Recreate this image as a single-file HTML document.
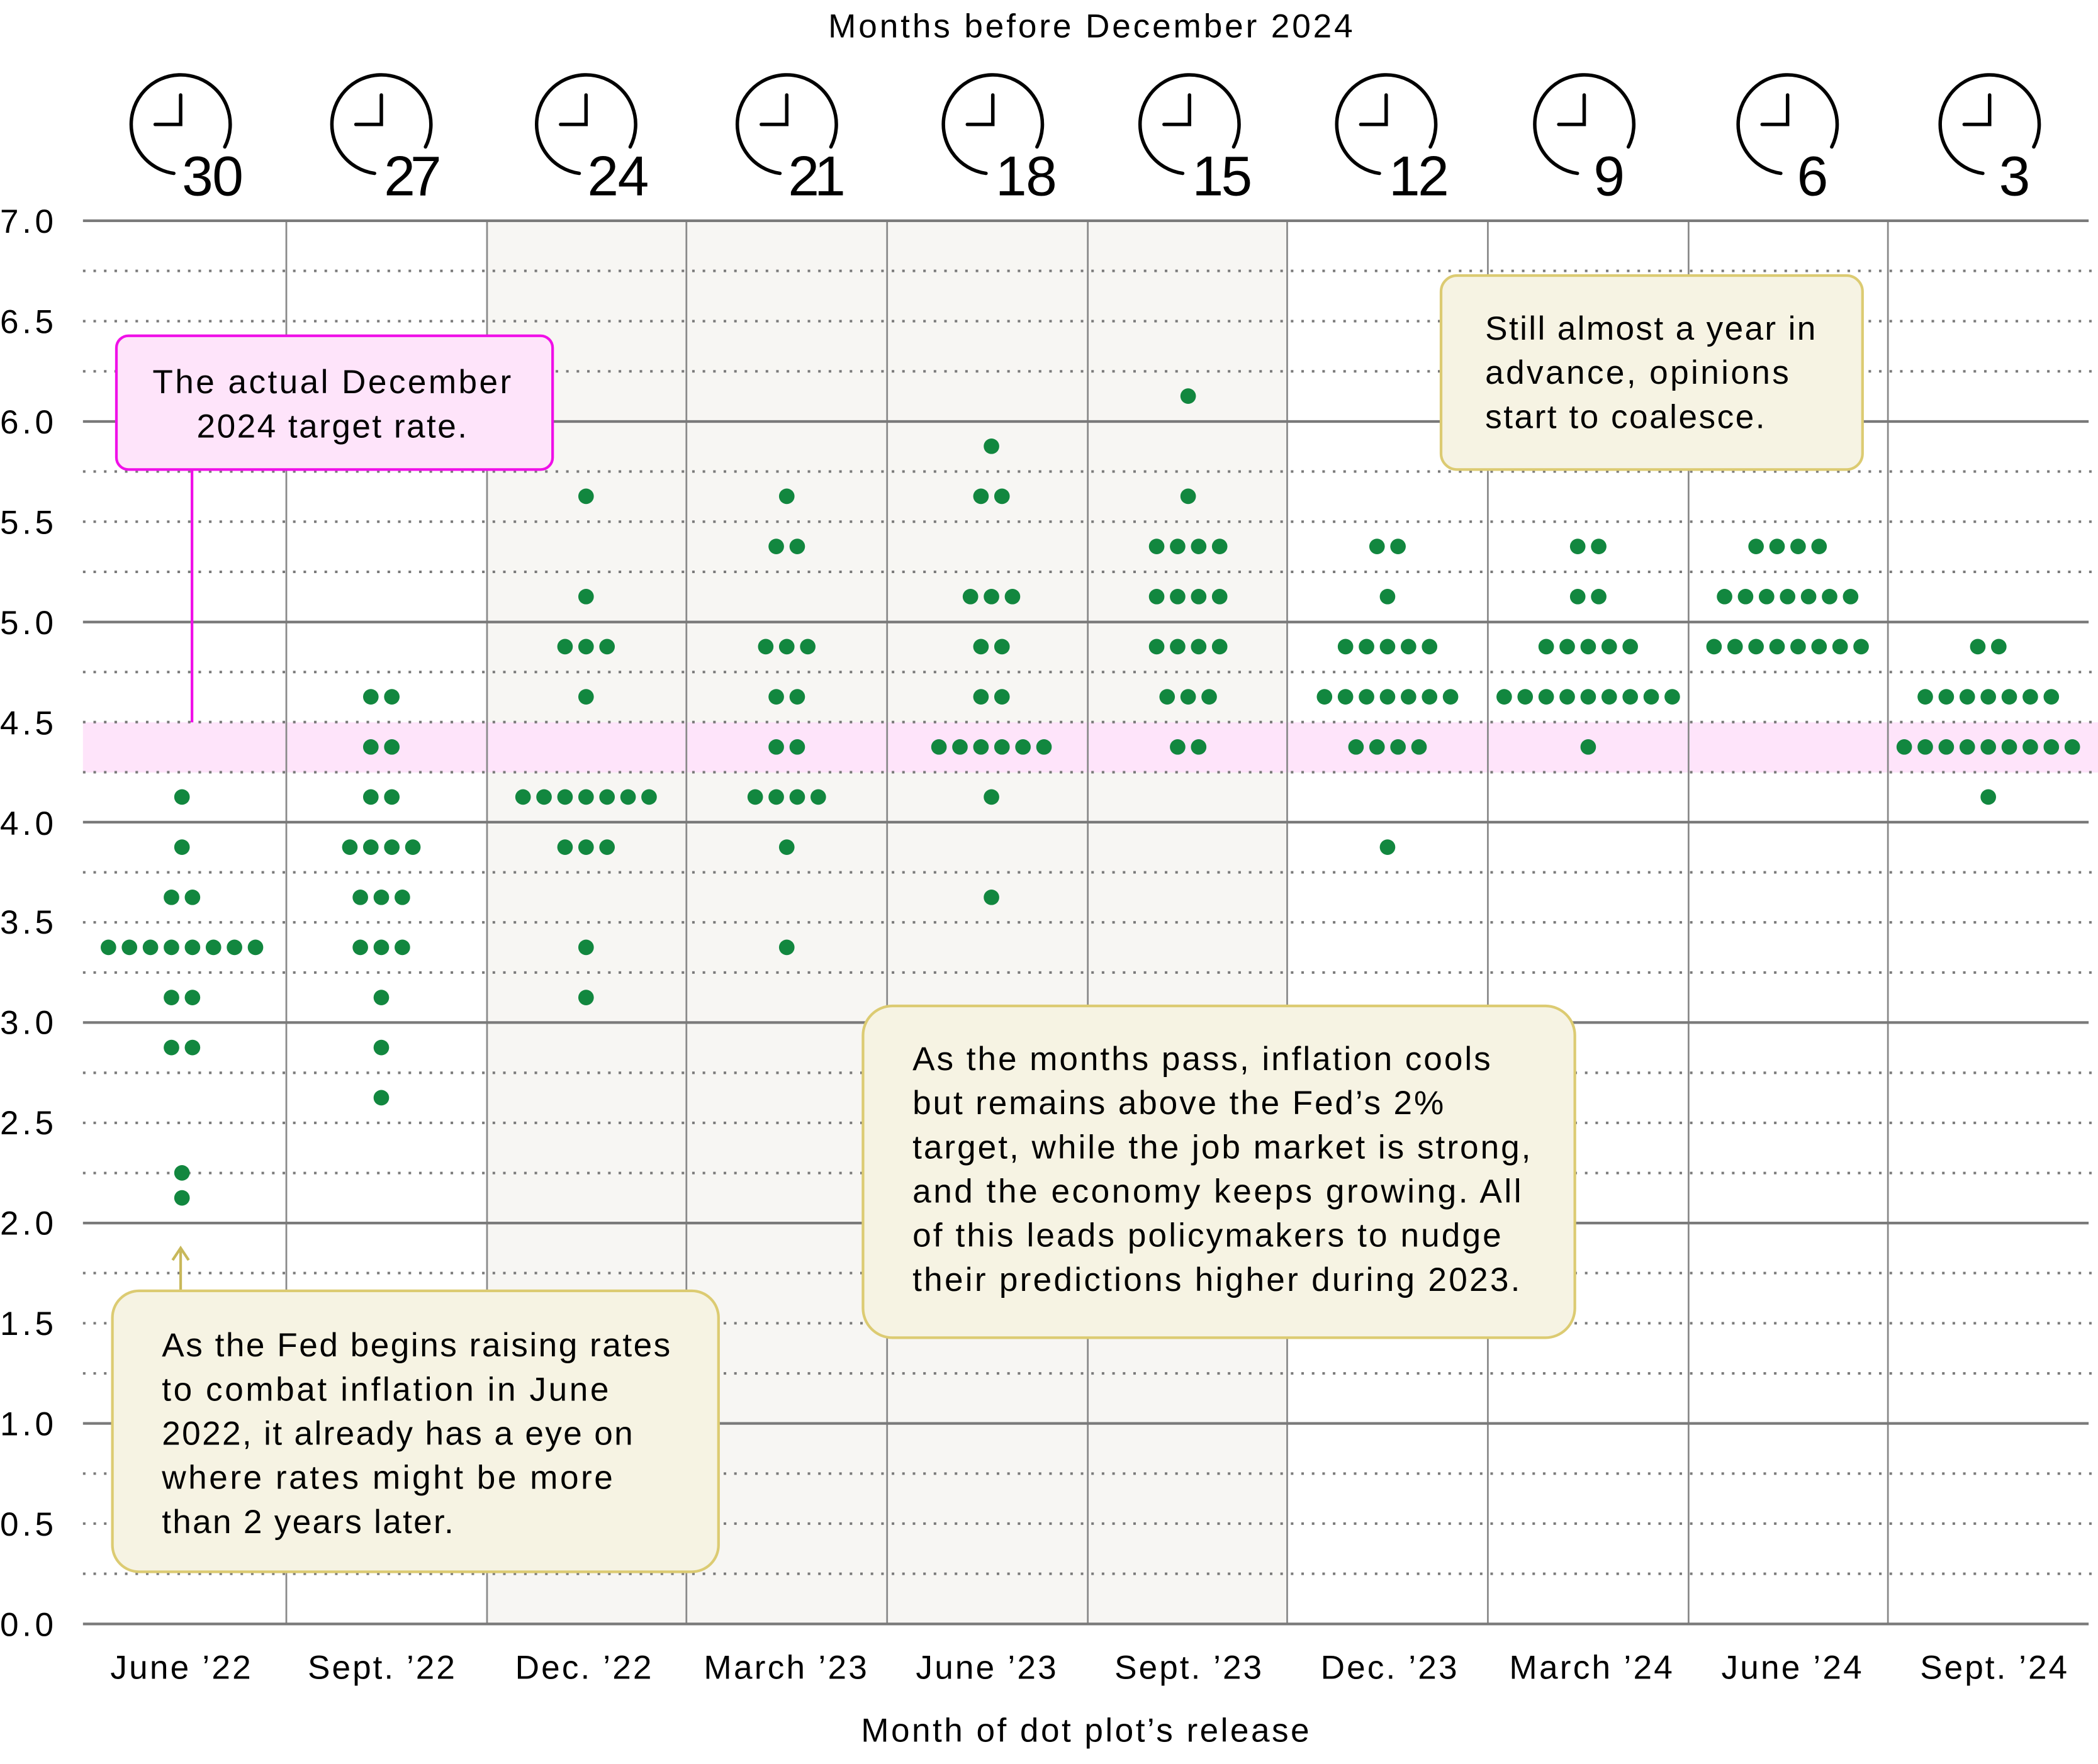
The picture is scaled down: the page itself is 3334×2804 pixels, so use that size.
<!DOCTYPE html>
<html><head><meta charset="utf-8"><style>html,body{margin:0;padding:0;background:#fff}svg{display:block}text{font-family:"Liberation Sans",sans-serif;fill:#000}</style></head><body>
<svg width="3334" height="2804" viewBox="0 0 1568 1318.7" preserveAspectRatio="none" xmlns="http://www.w3.org/2000/svg">
<defs>
<g id="r1"><circle cx="0" cy="0" r="5.8"/></g>
<g id="r2"><circle cx="-7.85" cy="0" r="5.8"/><circle cx="7.85" cy="0" r="5.8"/></g>
<g id="r3"><circle cx="-15.7" cy="0" r="5.8"/><use href="#r1"/><circle cx="15.7" cy="0" r="5.8"/></g>
<g id="r4"><use href="#r2"/><circle cx="-23.55" cy="0" r="5.8"/><circle cx="23.55" cy="0" r="5.8"/></g>
<g id="r5"><use href="#r3"/><circle cx="-31.4" cy="0" r="5.8"/><circle cx="31.4" cy="0" r="5.8"/></g>
<g id="r6"><use href="#r4"/><circle cx="-39.25" cy="0" r="5.8"/><circle cx="39.25" cy="0" r="5.8"/></g>
<g id="r7"><use href="#r5"/><circle cx="-47.1" cy="0" r="5.8"/><circle cx="47.1" cy="0" r="5.8"/></g>
<g id="r8"><use href="#r6"/><circle cx="-54.95" cy="0" r="5.8"/><circle cx="54.95" cy="0" r="5.8"/></g>
<g id="r9"><use href="#r7"/><circle cx="-62.8" cy="0" r="5.8"/><circle cx="62.8" cy="0" r="5.8"/></g>
</defs>
<rect x="364" y="165" width="598" height="1049" fill="#f7f6f3"/>
<rect x="62" y="540" width="1506" height="37.5" fill="#fee4fa"/>
<g stroke="#8a8a8a" stroke-width="1.3">
<line x1="214" y1="165" x2="214" y2="1214"/><line x1="364" y1="165" x2="364" y2="1214"/><line x1="513" y1="165" x2="513" y2="1214"/><line x1="663" y1="165" x2="663" y2="1214"/><line x1="813" y1="165" x2="813" y2="1214"/><line x1="962" y1="165" x2="962" y2="1214"/><line x1="1112" y1="165" x2="1112" y2="1214"/><line x1="1262" y1="165" x2="1262" y2="1214"/><line x1="1411" y1="165" x2="1411" y2="1214"/>
</g>
<g stroke="#7a7a7a" stroke-width="1.9" stroke-dasharray="1.9 5.95">
<line x1="62" y1="202.5" x2="1568" y2="202.5"/><line x1="62" y1="240.1" x2="1568" y2="240.1"/><line x1="62" y1="277.6" x2="1568" y2="277.6"/>
<line x1="62" y1="352.5" x2="1568" y2="352.5"/><line x1="62" y1="390" x2="1568" y2="390"/><line x1="62" y1="427.5" x2="1568" y2="427.5"/>
<line x1="62" y1="502.4" x2="1568" y2="502.4"/><line x1="62" y1="539.8" x2="1568" y2="539.8"/><line x1="62" y1="577.3" x2="1568" y2="577.3"/>
<line x1="62" y1="652.1" x2="1568" y2="652.1"/><line x1="62" y1="689.5" x2="1568" y2="689.5"/><line x1="62" y1="727" x2="1568" y2="727"/>
<line x1="62" y1="802" x2="1568" y2="802"/><line x1="62" y1="839.4" x2="1568" y2="839.4"/><line x1="62" y1="876.9" x2="1568" y2="876.9"/>
<line x1="62" y1="951.7" x2="1568" y2="951.7"/><line x1="62" y1="989.2" x2="1568" y2="989.2"/><line x1="62" y1="1026.7" x2="1568" y2="1026.7"/>
<line x1="62" y1="1101.6" x2="1568" y2="1101.6"/><line x1="62" y1="1139" x2="1568" y2="1139"/><line x1="62" y1="1176.5" x2="1568" y2="1176.5"/>
</g>
<g stroke="#7a7a7a" stroke-width="2">
<line x1="62" y1="165" x2="1561" y2="165"/><line x1="62" y1="315.1" x2="1561" y2="315.1"/><line x1="62" y1="465" x2="1561" y2="465"/><line x1="62" y1="614.6" x2="1561" y2="614.6"/><line x1="62" y1="764.4" x2="1561" y2="764.4"/><line x1="62" y1="914.3" x2="1561" y2="914.3"/><line x1="62" y1="1064.1" x2="1561" y2="1064.1"/><line x1="62" y1="1214" x2="1561" y2="1214"/>
</g>
<g font-size="25">
<text x="0" y="174" textLength="40">7.0</text><text x="0" y="249" textLength="40">6.5</text><text x="0" y="324" textLength="40">6.0</text><text x="0" y="399" textLength="40">5.5</text><text x="0" y="474" textLength="40">5.0</text><text x="0" y="549" textLength="40">4.5</text><text x="0" y="624" textLength="40">4.0</text><text x="0" y="698" textLength="40">3.5</text><text x="0" y="773" textLength="40">3.0</text><text x="0" y="923" textLength="40">2.0</text><text x="0" y="848" textLength="40">2.5</text><text x="0" y="998" textLength="40">1.5</text><text x="0" y="1073" textLength="40">1.0</text><text x="0" y="1148" textLength="40">0.5</text><text x="0" y="1223" textLength="40">0.0</text>
</g>
<g fill="#12873f">
<use href="#r1" x="136" y="595.8"/><use href="#r1" x="136" y="633.3"/><use href="#r2" x="136" y="670.8"/><use href="#r8" x="136" y="708.2"/><use href="#r2" x="136" y="745.7"/><use href="#r2" x="136" y="783.1"/><use href="#r1" x="136" y="876.8"/><use href="#r1" x="136" y="895.5"/>
<use href="#r2" x="285" y="520.9"/><use href="#r2" x="285" y="558.4"/><use href="#r2" x="285" y="595.8"/><use href="#r4" x="285" y="633.3"/><use href="#r3" x="285" y="670.8"/><use href="#r3" x="285" y="708.2"/><use href="#r1" x="285" y="745.7"/><use href="#r1" x="285" y="783.1"/><use href="#r1" x="285" y="820.6"/>
<use href="#r1" x="438" y="371"/><use href="#r1" x="438" y="446"/><use href="#r3" x="438" y="483.4"/><use href="#r1" x="438" y="520.9"/><use href="#r7" x="438" y="595.8"/><use href="#r3" x="438" y="633.3"/><use href="#r1" x="438" y="708.2"/><use href="#r1" x="438" y="745.7"/>
<use href="#r1" x="588" y="371"/><use href="#r2" x="588" y="408.5"/><use href="#r3" x="588" y="483.4"/><use href="#r2" x="588" y="520.9"/><use href="#r2" x="588" y="558.4"/><use href="#r4" x="588" y="595.8"/><use href="#r1" x="588" y="633.3"/><use href="#r1" x="588" y="708.2"/>
<use href="#r1" x="741" y="333.6"/><use href="#r2" x="741" y="371"/><use href="#r3" x="741" y="446"/><use href="#r2" x="741" y="483.4"/><use href="#r2" x="741" y="520.9"/><use href="#r6" x="741" y="558.4"/><use href="#r1" x="741" y="595.8"/><use href="#r1" x="741" y="670.8"/>
<use href="#r1" x="888" y="296.1"/><use href="#r1" x="888" y="371"/><use href="#r4" x="888" y="408.5"/><use href="#r4" x="888" y="446"/><use href="#r4" x="888" y="483.4"/><use href="#r3" x="888" y="520.9"/><use href="#r2" x="888" y="558.4"/>
<use href="#r2" x="1037" y="408.5"/><use href="#r1" x="1037" y="446"/><use href="#r5" x="1037" y="483.4"/><use href="#r7" x="1037" y="520.9"/><use href="#r4" x="1037" y="558.4"/><use href="#r1" x="1037" y="633.3"/>
<use href="#r2" x="1187" y="408.5"/><use href="#r2" x="1187" y="446"/><use href="#r5" x="1187" y="483.4"/><use href="#r9" x="1187" y="520.9"/><use href="#r1" x="1187" y="558.4"/>
<use href="#r4" x="1336" y="408.5"/><use href="#r7" x="1336" y="446"/><use href="#r8" x="1336" y="483.4"/>
<use href="#r2" x="1486" y="483.4"/><use href="#r7" x="1486" y="520.9"/><use href="#r9" x="1486" y="558.4"/><use href="#r1" x="1486" y="595.8"/>
</g>
<g fill="none" stroke="#000" stroke-width="2.6" stroke-linecap="round">
<path d="M168 109.8 A37 37 0 1 0 129.9 129.6 M135 71 V93 H116"/>
<path d="M318 109.8 A37 37 0 1 0 279.9 129.6 M285 71 V93 H266"/>
<path d="M471 109.8 A37 37 0 1 0 432.9 129.6 M438 71 V93 H419"/>
<path d="M621 109.8 A37 37 0 1 0 582.9 129.6 M588 71 V93 H569"/>
<path d="M775 109.8 A37 37 0 1 0 736.9 129.6 M742 71 V93 H723"/>
<path d="M922 109.8 A37 37 0 1 0 883.9 129.6 M889 71 V93 H870"/>
<path d="M1069 109.8 A37 37 0 1 0 1030.9 129.6 M1036 71 V93 H1017"/>
<path d="M1217 109.8 A37 37 0 1 0 1178.9 129.6 M1184 71 V93 H1165"/>
<path d="M1369 109.8 A37 37 0 1 0 1330.9 129.6 M1336 71 V93 H1317"/>
<path d="M1520 109.8 A37 37 0 1 0 1481.9 129.6 M1487 71 V93 H1468"/>
</g>
<g font-size="42">
<text x="136" y="146" textLength="46">30</text><text x="287" y="146" textLength="43">27</text><text x="439" y="146" textLength="46">24</text><text x="589" y="146" textLength="43">21</text><text x="744" y="146" textLength="46">18</text><text x="891" y="146" textLength="45">15</text><text x="1038" y="146" textLength="45">12</text><text x="1191" y="146">9</text><text x="1343" y="146">6</text><text x="1494" y="146">3</text>
</g>
<text x="815" y="28" font-size="25" text-anchor="middle" textLength="392">Months before December 2024</text>
<g font-size="25" text-anchor="middle">
<text x="135" y="1255" textLength="105">June ’22</text><text x="285" y="1255" textLength="110">Sept. ’22</text><text x="436" y="1255" textLength="102">Dec. ’22</text><text x="587" y="1255" textLength="122">March ’23</text><text x="737" y="1255" textLength="105">June ’23</text><text x="888" y="1255" textLength="110">Sept. ’23</text><text x="1038" y="1255" textLength="102">Dec. ’23</text><text x="1189" y="1255" textLength="122">March ’24</text><text x="1339" y="1255" textLength="105">June ’24</text><text x="1490" y="1255" textLength="110">Sept. ’24</text>
</g>
<text x="811" y="1302" font-size="25" text-anchor="middle" textLength="335">Month of dot plot’s release</text>
<line x1="143.5" y1="351" x2="143.5" y2="540" stroke="#f010e8" stroke-width="2"/>
<rect x="87" y="251" width="326" height="100" rx="9" fill="#fee4fa" stroke="#f010e8" stroke-width="2"/>
<g font-size="25" text-anchor="middle"><text x="248" y="294" textLength="268">The actual December</text><text x="248" y="327" textLength="202">2024 target rate.</text></g>
<rect x="1077" y="206" width="315" height="145" rx="12" fill="#f6f3e3" stroke="#dccb72" stroke-width="2"/>
<g font-size="25"><text x="1110" y="254" textLength="247">Still almost a year in</text><text x="1110" y="287" textLength="227">advance, opinions</text><text x="1110" y="320" textLength="209">start to coalesce.</text></g>
<rect x="645" y="752" width="532" height="248" rx="22" fill="#f6f3e3" stroke="#dccb72" stroke-width="2"/>
<g font-size="25"><text x="682" y="800" textLength="432">As the months pass, inflation cools</text><text x="682" y="833" textLength="397">but remains above the Fed’s 2%</text><text x="682" y="866" textLength="462">target, while the job market is strong,</text><text x="682" y="899" textLength="455">and the economy keeps growing. All</text><text x="682" y="932" textLength="440">of this leads policymakers to nudge</text><text x="682" y="965" textLength="454">their predictions higher during 2023.</text></g>
<line x1="135" y1="965" x2="135" y2="935" stroke="#c8b85a" stroke-width="2"/>
<path d="M129 942 L135 933 L141 942" fill="none" stroke="#c8b85a" stroke-width="2"/>
<rect x="84" y="965" width="453" height="210" rx="20" fill="#f6f3e3" stroke="#dccb72" stroke-width="2"/>
<g font-size="25"><text x="121" y="1014" textLength="380">As the Fed begins raising rates</text><text x="121" y="1047" textLength="334">to combat inflation in June</text><text x="121" y="1080" textLength="352">2022, it already has a eye on</text><text x="121" y="1113" textLength="337">where rates might be more</text><text x="121" y="1146" textLength="218">than 2 years later.</text></g>
</svg>
</body></html>
